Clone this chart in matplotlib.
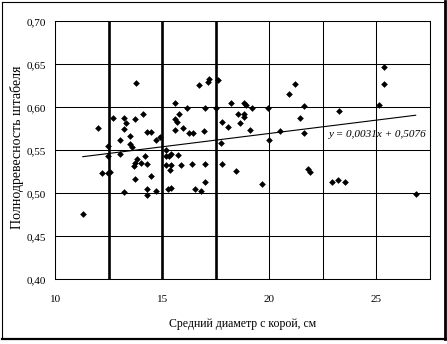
import matplotlib
matplotlib.use("Agg")
import matplotlib.pyplot as plt
from matplotlib.lines import Line2D
from matplotlib.ticker import MultipleLocator, FormatStrFormatter
import numpy as np

# Средний диаметр с корой, см
diam = [11.28, 11.98, 12.20, 12.48, 12.56, 12.48, 12.48, 12.69, 13.00, 13.00,
        13.20, 13.30, 13.20, 13.20, 13.50, 13.50, 13.58, 13.70, 13.78, 13.81,
        13.73, 13.68, 13.70, 14.00, 14.28, 14.11, 14.20, 14.28, 14.47, 14.47,
        14.28, 14.28, 14.70, 14.70, 14.90, 15.19, 15.19, 15.29, 15.42, 15.19,
        15.42, 15.37, 15.26, 15.42, 15.57, 15.57, 15.69, 15.76, 15.57, 15.73,
        15.89, 15.98, 16.23, 16.42, 16.14, 16.39, 16.51, 16.79, 16.70, 17.11,
        17.19, 17.61, 16.92, 17.01, 17.01, 17.01, 17.52, 17.72, 17.80, 17.80,
        18.08, 18.19, 18.42, 18.53, 18.81, 18.81, 18.61, 18.81, 18.89, 19.11,
        19.20, 19.64, 19.91, 19.97, 20.50, 20.89, 21.20, 21.42, 21.61, 21.61,
        21.78, 21.89, 22.91, 23.20, 23.52, 23.23, 25.14, 25.33, 25.33, 26.83]

# Полнодревесность штабеля
fullness = [0.476, 0.576, 0.524, 0.524, 0.525, 0.555, 0.543, 0.587, 0.562, 0.546,
            0.588, 0.582, 0.575, 0.502, 0.567, 0.557, 0.554, 0.586, 0.628, 0.540,
            0.535, 0.532, 0.517, 0.535, 0.534, 0.592, 0.543, 0.571, 0.571, 0.520,
            0.505, 0.498, 0.562, 0.503, 0.566, 0.550, 0.543, 0.543, 0.546, 0.533,
            0.533, 0.527, 0.505, 0.506, 0.605, 0.586, 0.583, 0.592, 0.574, 0.545,
            0.533, 0.576, 0.570, 0.570, 0.599, 0.534, 0.505, 0.503, 0.626, 0.630,
            0.633, 0.632, 0.572, 0.599, 0.534, 0.513, 0.599, 0.558, 0.583, 0.534,
            0.577, 0.605, 0.526, 0.592, 0.592, 0.589, 0.582, 0.605, 0.603, 0.574,
            0.599, 0.511, 0.599, 0.562, 0.572, 0.615, 0.627, 0.587, 0.602, 0.570,
            0.528, 0.525, 0.513, 0.515, 0.513, 0.596, 0.603, 0.627, 0.647, 0.499]

# линейный тренд (из подписи на графике)
slope = 0.0031
intercept = 0.5076
trend_label = "y = 0,0031x + 0,5076"

# выделенные границы классов диаметра
bold_lines = [12.5, 15, 17.5]

plt.rcParams['font.family'] = ['Liberation Serif', 'DejaVu Serif']

fig = plt.figure(figsize=(4.47, 3.44), dpi=100)
ax = fig.add_axes([55.4 / 447, 1 - 279.3 / 344, (430 - 55.4) / 447, 258 / 344])

ax.set_xlim(10, 27.5)
ax.set_ylim(0.40, 0.70)
ax.xaxis.set_major_locator(MultipleLocator(5))
ax.xaxis.set_minor_locator(MultipleLocator(2.5))
ax.yaxis.set_major_locator(MultipleLocator(0.05))
ax.yaxis.set_major_formatter(FormatStrFormatter('%.2f'))
ax.set_yticklabels([t.replace('.', ',') for t in ['%.2f' % v for v in ax.get_yticks()]])

ax.grid(which='both', axis='x', color='black', lw=0.75)
ax.grid(which='major', axis='y', color='black', lw=0.75)
ax.set_axisbelow(True)
for x in bold_lines:
    ax.axvline(x, color='black', lw=1.9, zorder=1.5)

for s in ax.spines.values():
    s.set_linewidth(0.75)
ax.tick_params(which='both', length=0, labelsize=8)
ax.tick_params(axis='y', pad=7)
ax.tick_params(axis='x', pad=11)

ax.plot(diam, fullness, 'D', color='black', ms=3.4, mew=0, zorder=3)

xt = np.array([min(diam), max(diam)])
ax.plot(xt, slope * xt + intercept, color='black', lw=0.8, zorder=2.5)
ax.text(22.78, 0.568, trend_label, style='italic', fontsize=8, ha='left', va='center')

ax.set_xlabel("Средний диаметр с корой, см", fontsize=8.5)
ax.xaxis.set_label_coords(0.5, -0.15)
ax.set_ylabel("Полнодревесность штабеля", fontsize=10)
ax.yaxis.set_label_coords(-0.085, 0.51)

# рамка всей диаграммы
fig.add_artist(Line2D([1.5 / 447, 444.5 / 447], [1 - 1.5 / 344, 1 - 1.5 / 344], color='black', lw=0.8))
fig.add_artist(Line2D([1.5 / 447, 1.5 / 447], [1 - 1.5 / 344, 1 - 338 / 344], color='black', lw=0.8))
fig.add_artist(Line2D([445 / 447, 445 / 447], [1 - 1 / 344, 1 - 339 / 344], color='black', lw=2))
fig.add_artist(Line2D([1.5 / 447, 446 / 447], [1 - 338.5 / 344, 1 - 338.5 / 344], color='black', lw=1.6))

fig.savefig("out.png", dpi=100)
